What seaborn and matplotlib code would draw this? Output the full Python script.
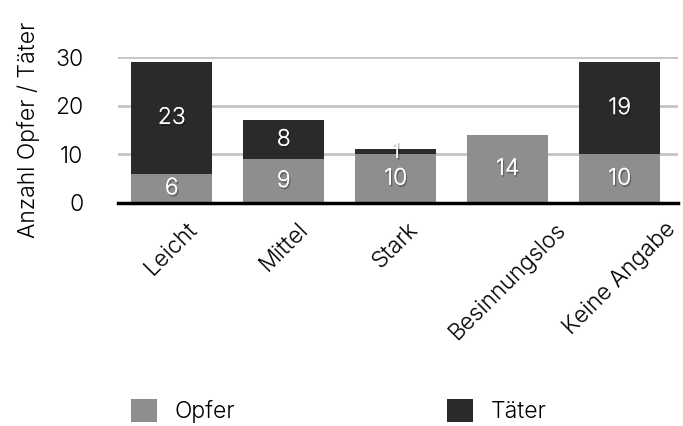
import matplotlib
matplotlib.use("Agg")
import matplotlib.pyplot as plt
import matplotlib.patheffects as pe
from matplotlib.patches import Patch
import seaborn as sns
import pandas as pd

categories = ["Leicht", "Mittel", "Stark", "Besinnungslos", "Keine Angabe"]
opfer = [6, 9, 10, 14, 10]
taeter = [23, 8, 1, 0, 19]
y_ticks = [0, 10, 20, 30]

c_opfer = "#8e8e8e"
c_taeter = "#2a2a2a"
c_text = "#000000"
fs = 16.5

sns.set_theme(style="white")
plt.rcParams["font.family"] = ["Inter", "DejaVu Sans"]
plt.rcParams["font.weight"] = 300
plt.rcParams["axes.labelweight"] = 300
plt.rcParams["text.color"] = c_text
plt.rcParams["axes.labelcolor"] = c_text
plt.rcParams["xtick.color"] = c_text
plt.rcParams["ytick.color"] = c_text

df = pd.DataFrame({"Kategorie": categories, "Opfer": opfer, "Täter": taeter})
df["Gesamt"] = df["Opfer"] + df["Täter"]

fig = plt.figure(figsize=(6.83, 4.26), dpi=100)
ax = fig.add_axes([0.1728, 0.5235, 0.8199, 0.3425])

for y in y_ticks[1:]:
    ax.axhline(y, color="#c4c4c4", lw=2, zorder=0)

# total height in dark, victims drawn over it -> stacked look
sns.barplot(data=df, x="Kategorie", y="Gesamt", color=c_taeter, saturation=1,
            width=0.72, ax=ax, zorder=2, linewidth=0)
sns.barplot(data=df, x="Kategorie", y="Opfer", color=c_opfer, saturation=1,
            width=0.72, ax=ax, zorder=3, linewidth=0)

shadow = [pe.withSimplePatchShadow(offset=(1, -1.5), shadow_rgbFace="black", alpha=0.3),
          pe.Normal()]
for i, (o, t) in enumerate(zip(opfer, taeter)):
    ax.text(i, o / 2, str(o), ha="center", va="center", color="white",
            fontsize=fs, zorder=5, path_effects=shadow)
    if t > 0:
        ax.text(i, o + t / 2, str(t), ha="center", va="center", color="white",
                fontsize=fs, zorder=5, path_effects=shadow)

ax.set_xlim(-0.48, 4.52)
ax.set_ylim(0, 30)
ax.set_yticks(y_ticks)
ax.set_yticklabels([str(v) for v in y_ticks], fontsize=fs)
ax.tick_params(axis="y", length=0, pad=25)
ax.tick_params(axis="x", length=0, pad=11)
ax.set_xticks(range(len(categories)))
ax.set_xticklabels(categories, rotation=45, ha="center", va="top", fontsize=fs)
ax.set_xlabel("")
ax.set_ylabel("Anzahl Opfer / Täter", fontsize=fs)
ax.yaxis.set_label_coords(-0.14, 0.5)

for s in ["top", "right", "left"]:
    ax.spines[s].set_visible(False)
ax.spines["bottom"].set_color("black")
ax.spines["bottom"].set_linewidth(2.5)
ax.spines["bottom"].set_zorder(6)

# one legend entry per series, placed side by side under the chart
for color, label, x0 in [(c_opfer, "Opfer", 131 / 683), (c_taeter, "Täter", 447 / 683)]:
    fig.legend(handles=[Patch(facecolor=color, edgecolor="none", label=label)],
               loc="center left", bbox_to_anchor=(x0, 0.035), frameon=False,
               fontsize=fs, handlelength=1.15, handleheight=1.15,
               handletextpad=0.75, borderpad=0, borderaxespad=0)

fig.savefig("out.png", dpi=100, facecolor="white")
